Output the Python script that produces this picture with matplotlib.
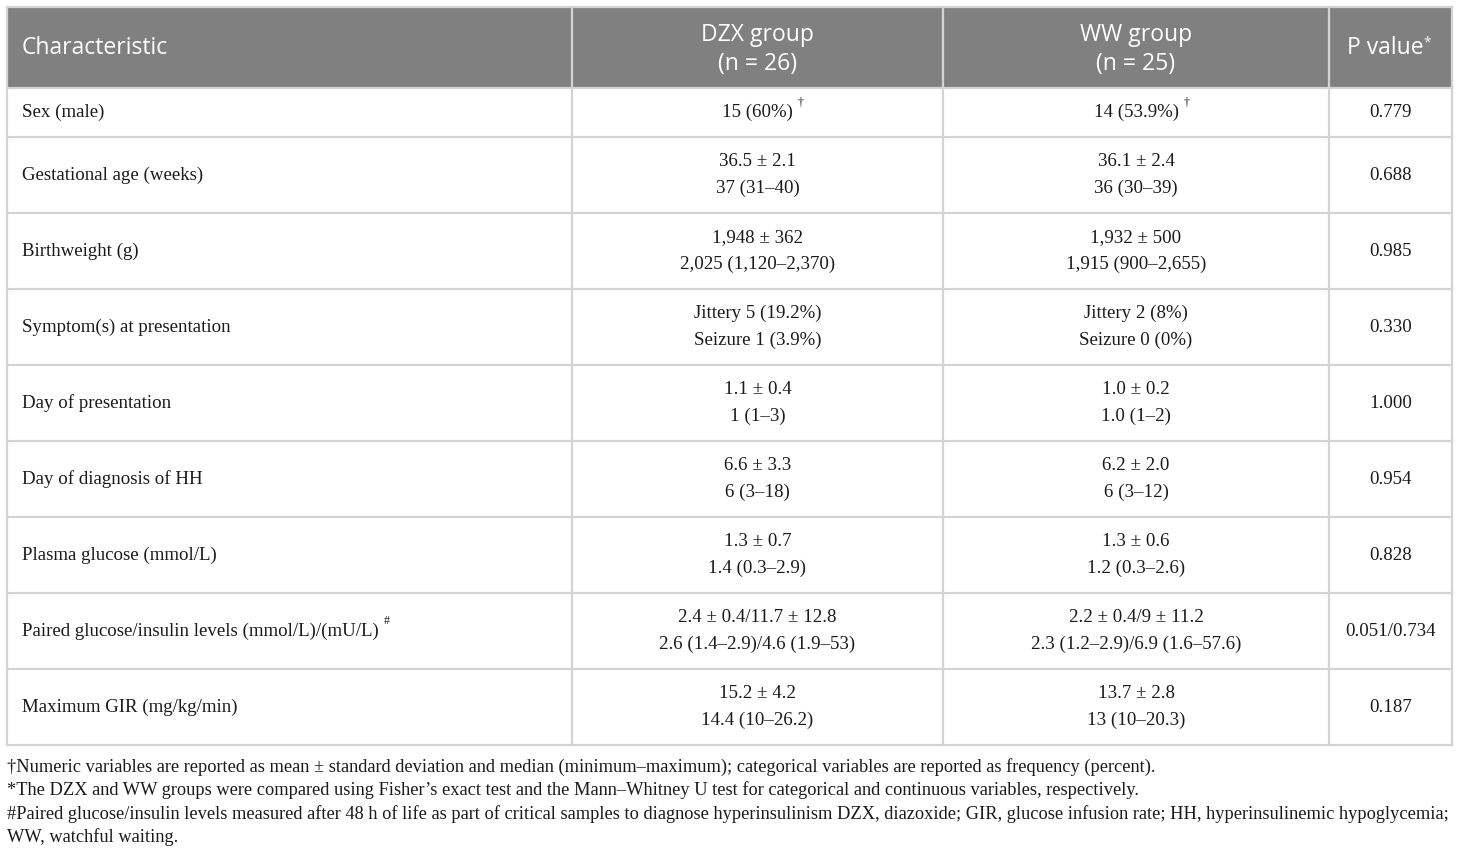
import matplotlib
matplotlib.use("Agg")
import matplotlib.pyplot as plt

# table content
header = ["Characteristic", "DZX group\n(n = 26)", "WW group\n(n = 25)", "P value"]
characteristics = [
    "Sex (male)",
    "Gestational age (weeks)",
    "Birthweight (g)",
    "Symptom(s) at presentation",
    "Day of presentation",
    "Day of diagnosis of HH",
    "Plasma glucose (mmol/L)",
    "Paired glucose/insulin levels (mmol/L)/(mU/L)",
    "Maximum GIR (mg/kg/min)",
]
char_marks = ["", "", "", "", "", "", "", "#", ""]
dzx = [
    "15 (60%)",
    "36.5 \u00b1 2.1\n37 (31\u201340)",
    "1,948 \u00b1 362\n2,025 (1,120\u20132,370)",
    "Jittery 5 (19.2%)\nSeizure 1 (3.9%)",
    "1.1 \u00b1 0.4\n1 (1\u20133)",
    "6.6 \u00b1 3.3\n6 (3\u201318)",
    "1.3 \u00b1 0.7\n1.4 (0.3\u20132.9)",
    "2.4 \u00b1 0.4/11.7 \u00b1 12.8\n2.6 (1.4\u20132.9)/4.6 (1.9\u201353)",
    "15.2 \u00b1 4.2\n14.4 (10\u201326.2)",
]
ww = [
    "14 (53.9%)",
    "36.1 \u00b1 2.4\n36 (30\u201339)",
    "1,932 \u00b1 500\n1,915 (900\u20132,655)",
    "Jittery 2 (8%)\nSeizure 0 (0%)",
    "1.0 \u00b1 0.2\n1.0 (1\u20132)",
    "6.2 \u00b1 2.0\n6 (3\u201312)",
    "1.3 \u00b1 0.6\n1.2 (0.3\u20132.6)",
    "2.2 \u00b1 0.4/9 \u00b1 11.2\n2.3 (1.2\u20132.9)/6.9 (1.6\u201357.6)",
    "13.7 \u00b1 2.8\n13 (10\u201320.3)",
]
value_marks = ["\u2020", "", "", "", "", "", "", "", ""]
p_values = ["0.779", "0.688", "0.985", "0.330", "1.000", "0.954", "0.828", "0.051/0.734", "0.187"]
footnotes = [
    "\u2020Numeric variables are reported as mean \u00b1 standard deviation and median (minimum\u2013maximum); categorical variables are reported as frequency (percent).",
    "*The DZX and WW groups were compared using Fisher\u2019s exact test and the Mann\u2013Whitney U test for categorical and continuous variables, respectively.",
    "#Paired glucose/insulin levels measured after 48 h of life as part of critical samples to diagnose hyperinsulinism DZX, diazoxide; GIR, glucose infusion rate; HH, hyperinsulinemic hypoglycemia;",
    "WW, watchful waiting.",
]

# geometry in pixels
W, H = 1460, 856
col_x = [7, 572, 943, 1329, 1452]
row_y = [7, 88, 137, 213, 289, 365, 441, 517, 593, 669, 745]
line_c = "#d3d3d3"
head_c = "#808080"
txt_c = "#1a1a1a"
serif = "Liberation Serif"
sans = "Open Sans"

fig = plt.figure(figsize=(W / 100, H / 100), dpi=100)
ax = fig.add_axes([0, 0, 1, 1])
ax.set_xlim(0, W)
ax.set_ylim(H, 0)
ax.axis("off")

ax.add_patch(plt.Rectangle((col_x[0], row_y[0]), col_x[-1] - col_x[0], row_y[1] - row_y[0],
                           facecolor=head_c, edgecolor="none", zorder=0))

# grid lines
for y in row_y[1:]:
    ax.plot([col_x[0], col_x[-1]], [y, y], color=line_c, lw=1.6, zorder=1)
ax.plot([col_x[0], col_x[-1]], [row_y[0], row_y[0]], color=line_c, lw=1.6, zorder=1)
for x in col_x:
    ax.plot([x, x], [row_y[0], row_y[-1]], color=line_c, lw=1.6, zorder=1)

fig.canvas.draw()
renderer = fig.canvas.get_renderer()


def sup(t, mark, size, color=txt_c, family=serif, dx=5, dy=-9):
    # put a small raised mark right after a drawn text
    bb = t.get_window_extent(renderer)
    inv = ax.transData.inverted()
    x1, ytop = inv.transform((bb.x1, bb.y1))
    y0 = (inv.transform((bb.x1, bb.y0))[1] + ytop) / 2
    ax.text(x1 + dx, y0 + dy, mark, fontsize=size, family=family, color=color,
            ha="left", va="center")


# header
hy = (row_y[0] + row_y[1]) / 2
ax.text(22, hy, header[0], fontsize=16.5, family=sans, color="white", ha="left", va="center")
for j in (1, 2):
    cx = (col_x[j] + col_x[j + 1]) / 2
    ax.text(cx, hy + 2, header[j], fontsize=16.5, family=sans, color="white", ha="center",
            va="center", linespacing=1.32)
t = ax.text((col_x[3] + col_x[4]) / 2 - 5, hy, header[3], fontsize=16.5, family=sans,
            color="white", ha="center", va="center")
fig.canvas.draw()
sup(t, "*", 10, color="white", family=sans, dx=0, dy=-5)

# body
for i in range(len(characteristics)):
    cy = (row_y[i + 1] + row_y[i + 2]) / 2
    t = ax.text(22, cy, characteristics[i], fontsize=13.6, family=serif, color=txt_c,
                ha="left", va="center")
    cells = []
    for j, vals in ((1, dzx), (2, ww)):
        cx = (col_x[j] + col_x[j + 1]) / 2
        cells.append(ax.text(cx, cy, vals[i], fontsize=13.6, family=serif, color=txt_c,
                             ha="center", va="center", linespacing=1.72))
    ax.text((col_x[3] + col_x[4]) / 2, cy, p_values[i], fontsize=13.6, family=serif,
            color=txt_c, ha="center", va="center")
    fig.canvas.draw()
    if char_marks[i]:
        sup(t, char_marks[i], 8.5, dy=-10)
    if value_marks[i]:
        for c in cells:
            sup(c, value_marks[i], 8.5, dy=-10)

# footnotes
for k, note in enumerate(footnotes):
    ax.text(7, 767 + k * 23.5, note, fontsize=13.2, family=serif, color=txt_c,
            ha="left", va="center")

fig.savefig("out.png", dpi=100)
